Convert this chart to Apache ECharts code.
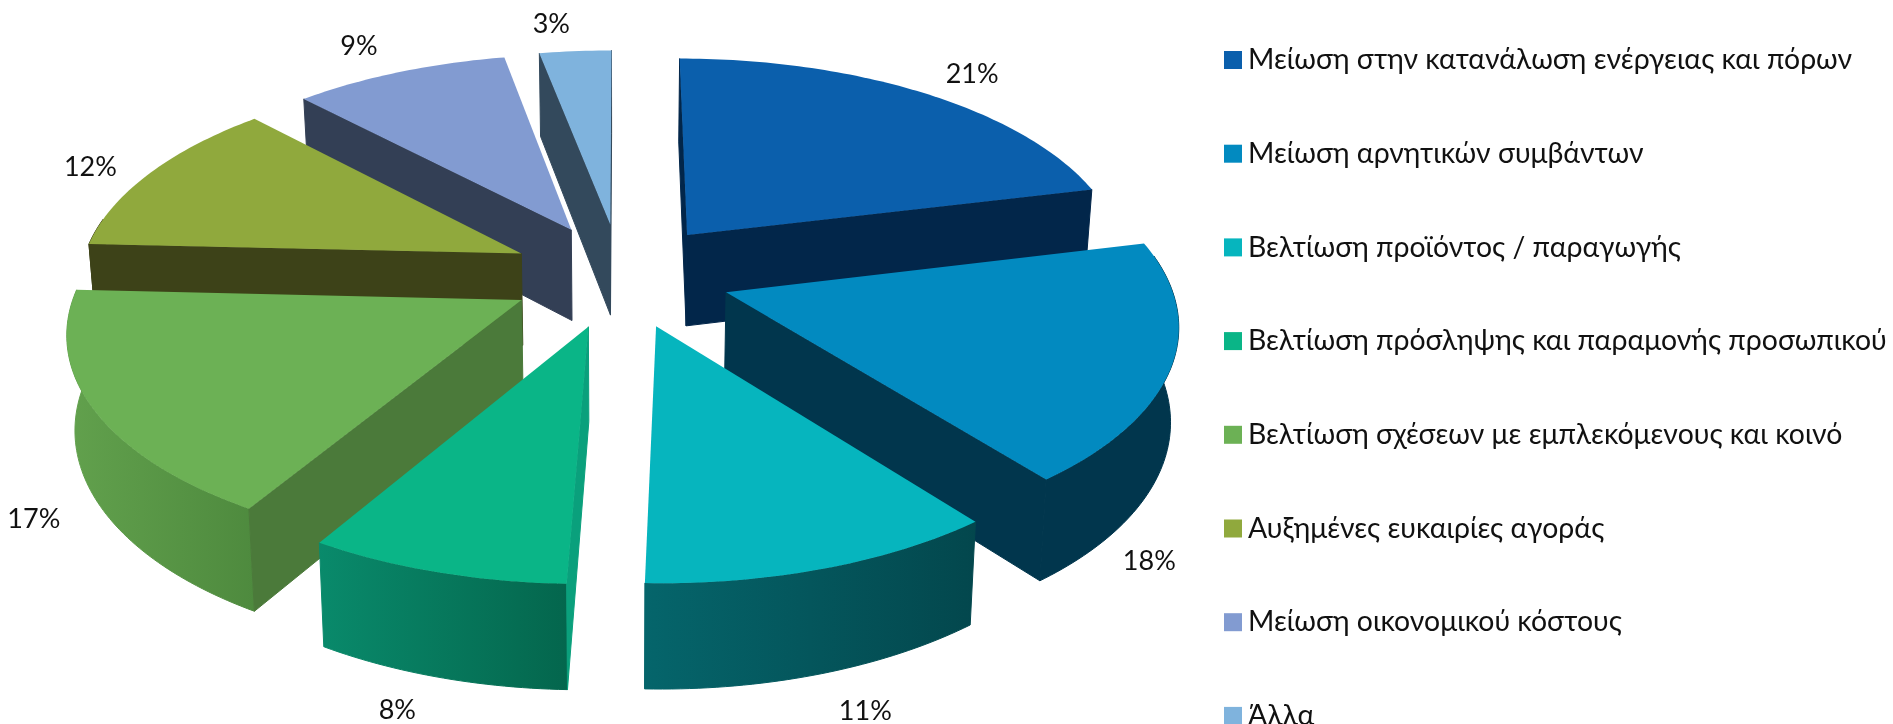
<!DOCTYPE html>
<html>
<head>
<meta charset="utf-8">
<style>html,body{margin:0;background:#fff}#chart{width:1893px;height:724px}</style>
<script src="https://cdn.jsdelivr.net/npm/echarts@6/dist/echarts.min.js"></script>
</head>
<body>
<div id="chart"></div>
<script>
var categories = [
	'Μείωση στην κατανάλωση ενέργειας και πόρων',
	'Μείωση αρνητικών συμβάντων',
	'Βελτίωση προϊόντος / παραγωγής',
	'Βελτίωση πρόσληψης και παραμονής προσωπικού',
	'Βελτίωση σχέσεων με εμπλεκόμενους και κοινό',
	'Αυξημένες ευκαιρίες αγοράς',
	'Μείωση οικονομικού κόστους',
	'Άλλα'
];
var shares = [21, 18, 11, 8, 17, 12, 9, 3];

var topColors = ['#0B5FAC', '#028AC0', '#06B5BE', '#0AB587', '#6CB155', '#90A93D', '#829BD1', '#7FB3DD'];
var faceColors = ['#02264A', '#01364D', '#03474D', '#0AA07C', '#4B7A3A', '#3D4218', '#333F55', '#33495C'];
var rimColors = [
	['#02264A', '#02264A'], ['#01364D', '#01364D'], ['#05656B', '#03474D'], ['#098A6B', '#04664D'],
	['#62A14D', '#4E8A3E'], ['#3D4218', '#3D4218'], ['#333F55', '#333F55'], ['#33495C', '#33495C']
];
// back to front
var paintOrder = [7, 6, 0, 5, 1, 4, 3, 2];
// where excel left each percent label: angle on the pie, distance from centre
var labelAngle = [40, 138.7, 164.9, 193.4, 228.4, 293.4, 332, 353];
var labelDist = [1.43, 1.55, 1.70, 1.684, 1.53, 1.39, 1.447, 1.433];

var CX = 620.5, CY = 275, A = 442, B = 209, H = 94, PERSP = 0.13, SHRINK = 0.015, EXPLODE = 0.25;
var RAD = Math.PI / 180;

function project(u, v, z) {
	var w = (1 + PERSP * v) * (1 + SHRINK * z);
	return [CX + A * u / w, CY + (-B * v + H * z) / w];
}

var total = 0;
shares.forEach(function(s) { total += s; });
var startAngles = [], endAngles = [], run = 0;
shares.forEach(function(s) {
	startAngles.push(run * 360 / total);
	run += s;
	endAngles.push(run * 360 / total);
});

function poly(points, fill, z2, seam) {
	return {
		type: 'polygon', shape: { points: points }, z2: z2, silent: true,
		style: { fill: fill, stroke: seam ? fill : null, lineWidth: seam ? 1 : 0 }
	};
}

function area(p) {
	var s = 0;
	for (var i = 0; i < p.length; i++) {
		var q = p[(i + 1) % p.length];
		s += p[i][0] * q[1] - q[0] * p[i][1];
	}
	return s;
}

function renderSlice(idx) {
	return function(params, api) {
		var a0 = api.value(0), a1 = api.value(1), mid = (a0 + a1) / 2 * RAD;
		var ox = EXPLODE * Math.sin(mid), oy = EXPLODE * Math.cos(mid);
		var rim = function(deg, z) {
			return project(ox + Math.sin(deg * RAD), oy + Math.cos(deg * RAD), z);
		};
		var children = [];
		var apexT = project(ox, oy, 0), apexB = project(ox, oy, 1);

		// outer wall, only the part turned to the viewer
		var from = Math.max(a0, 80), to = Math.min(a1, 280);
		if (to > from) {
			var upper = [], lower = [];
			for (var d = from; d <= to; d += 1) {
				upper.push(rim(d, 0));
				lower.unshift(rim(d, 1));
			}
			upper.push(rim(to, 0));
			lower.unshift(rim(to, 1));
			children.push(poly(upper.concat(lower), new echarts.graphic.LinearGradient(0, 0, 1, 0, [
				{ offset: 0, color: rimColors[idx][0] },
				{ offset: 1, color: rimColors[idx][1] }
			]), 1, true));
		}

		// the two cut faces
		var startFace = [apexT, rim(a0, 0), rim(a0, 1), apexB];
		var endFace = [apexT, rim(a1, 0), rim(a1, 1), apexB];
		if (area(startFace) < 0) children.push(poly(startFace, faceColors[idx], 2, true));
		if (area(endFace) > 0) children.push(poly(endFace, faceColors[idx], 2, true));

		// lid
		var lid = [apexT];
		for (var t = a0; t < a1; t += 1) lid.push(rim(t, 0));
		lid.push(rim(a1, 0));
		children.push(poly(lid, topColors[idx], 3, false));

		var la = labelAngle[idx] * RAD, ld = labelDist[idx];
		var lp = project(ld * Math.sin(la), ld * Math.cos(la), 0);
		children.push({
			type: 'text', z2: 4, silent: true,
			style: {
				x: lp[0] - 4, y: lp[1], text: api.value(2) + '%', align: 'center', verticalAlign: 'middle',
				fill: '#111', font: '27px Lato, "Noto Sans", sans-serif'
			}
		});
		return { type: 'group', children: children };
	};
}

var series = categories.map(function(name, i) {
	return {
		name: name,
		type: 'custom',
		coordinateSystem: 'none',
		z: 2 + paintOrder.indexOf(i),
		itemStyle: { color: topColors[i] },
		renderItem: renderSlice(i),
		data: [[startAngles[i], endAngles[i], shares[i]]]
	};
});

var chart = echarts.init(document.getElementById('chart'));
chart.setOption({
	animation: false,
	backgroundColor: '#fff',
	legend: {
		orient: 'vertical',
		left: 1224,
		top: 46,
		height: 760,
		padding: 0,
		itemWidth: 18,
		itemHeight: 18,
		itemGap: 65.7,
		icon: 'rect',
		selectedMode: false,
		data: categories,
		textStyle: { fontFamily: 'Lato, "Noto Sans", sans-serif', fontSize: 28.4, color: '#111', padding: [0, 0, 0, 1], lineHeight: 28, height: 28 }
	},
	series: series
});
</script>
</body>
</html>
